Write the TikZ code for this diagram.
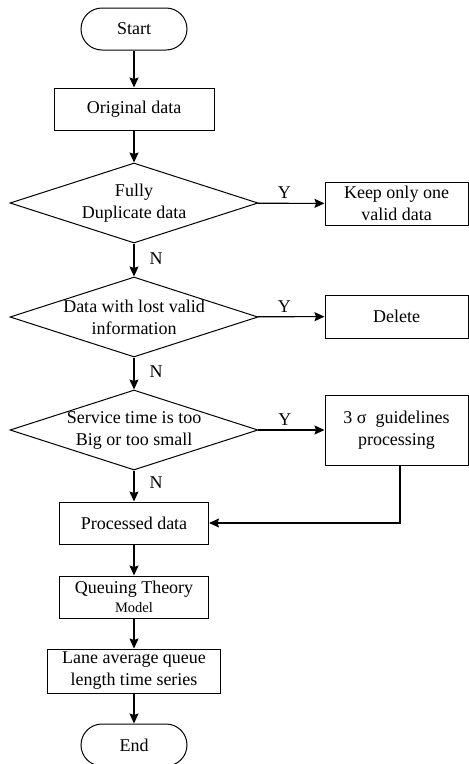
\documentclass[tikz,border=0pt]{standalone}
\usepackage{fontspec}
\setmainfont{Liberation Serif}
\usetikzlibrary{shapes.geometric,arrows.meta}
\begin{document}
\begin{tikzpicture}[x=1pt,y=-1pt,
  every node/.style={font=\fontsize{18}{22}\selectfont, inner sep=0pt, align=center},
  proc/.style={draw, line width=1pt, rectangle, minimum height=42pt},
  term/.style={draw, line width=1pt, rectangle, rounded corners=21pt, minimum width=106pt, minimum height=42pt},
  dec/.style={draw, line width=1pt, diamond, minimum width=248pt, minimum height=80pt},
  arr/.style={line width=1.1pt, -{Stealth[length=10pt,width=9pt,inset=1.5pt]}},
  lab/.style={font=\fontsize{18}{22}\selectfont}]
\useasboundingbox (0,0) rectangle (469,764);
\node[term] (start) at (134,29) {Start};
\node[proc, minimum width=160pt] (orig) at (134,109) {Original data};
\node[dec, label={[align=center]center:Fully\\Duplicate data}] (d1) at (134,203) {};
\node[dec, label={[align=center]center:Data with lost valid\\information}] (d2) at (134,317) {};
\node[dec, label={[align=center]center:Service time is too\\Big or too small}] (d3) at (134,430) {};
\node[proc, minimum width=143pt, minimum height=43pt] (keep) at (396.5,203.5) {Keep only one\\valid data};
\node[proc, minimum width=143pt, minimum height=43pt] (del) at (396.5,316.5) {Delete};
\node[proc, minimum width=143pt, minimum height=70pt] (sig) at (396.5,430) {3 σ\ \ guidelines\\processing};
\node[proc, minimum width=149pt] (pd) at (134,523) {Processed data};
\node[proc, minimum width=149pt] (qt) at (134,597) {Queuing Theory\\[-3pt]{\fontsize{14.5}{16}\selectfont Model}};
\node[proc, minimum width=173pt, minimum height=44pt] (lane) at (134,671) {Lane average queue\\length time series};
\node[term] (end) at (134,745) {End};
\draw[arr] (start) -- (orig);
\draw[arr] (orig) -- (d1);
\draw[arr] (d1) -- node[lab, pos=0.45, right=15pt] {N} (d2);
\draw[arr] (d2) -- node[lab, pos=0.45, right=15pt] {N} (d3);
\draw[arr] (d3) -- node[lab, pos=0.4, right=15pt] {N} (pd);
\draw[arr] (d1) -- node[lab, pos=0.4, above=4pt] {Y} (keep);
\draw[arr] (d2) -- node[lab, pos=0.4, above=4pt] {Y} (del);
\draw[arr] (d3) -- node[lab, pos=0.4, above=4pt] {Y} (sig);
\draw[arr] (pd) -- (qt);
\draw[arr] (qt) -- (lane);
\draw[arr] (lane) -- (end);
\draw[arr] ([xshift=3.5pt]sig.south) |- (pd.east);
\end{tikzpicture}
\end{document}
